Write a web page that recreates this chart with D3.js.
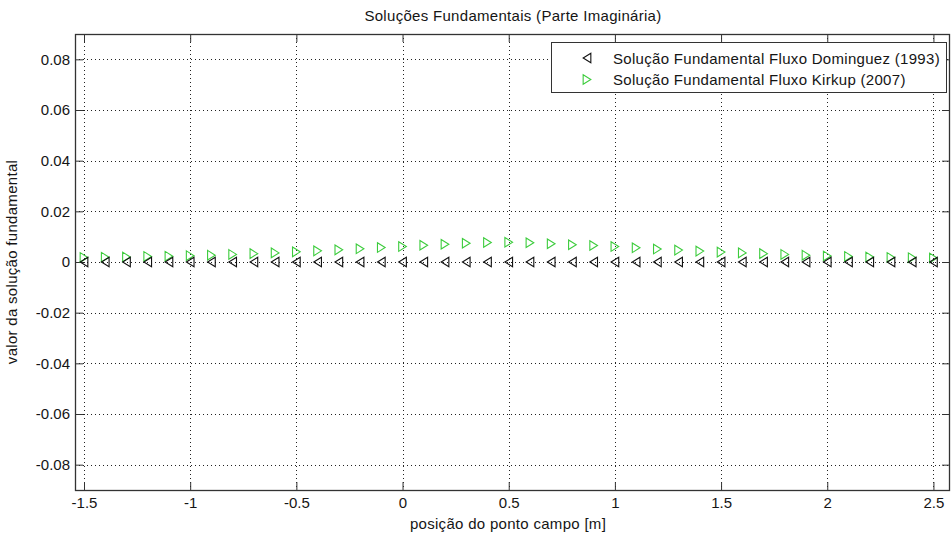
<!DOCTYPE html>
<html>
<head>
<meta charset="utf-8">
<script src="https://cdn.jsdelivr.net/npm/d3@7"></script>
<style>
  html, body { margin: 0; padding: 0; background: #fff; }
  svg { display: block; font-family: "Liberation Sans", Arial, sans-serif; }
</style>
</head>
<body>
<svg id="chart" width="952" height="535"></svg>
<script>
// Field point positions [m]
const positions = d3.range(41).map(i => +(-1.5 + i * 0.1).toFixed(1));
// Imaginary part, Dominguez (1993) flux fundamental solution
const dominguez = [
  0, 0, 0, 0, 0, 0, 0, 0, 0, 0,
  0, 0, 0, 0, 0, 0, 0, 0, 0, 0,
  0, 0, 0, 0, 0, 0, 0, 0, 0, 0,
  0, 0, 0, 0, 0, 0, 0, 0, 0, 0, 0
];
// Imaginary part, Kirkup (2007) flux fundamental solution
const kirkup = [
  0.0018, 0.0019, 0.0020, 0.0022, 0.0023, 0.0025, 0.0027, 0.0030, 0.0033, 0.0036,
  0.0040, 0.0044, 0.0048, 0.0052, 0.0057, 0.0061, 0.0066, 0.0070, 0.0074, 0.0077,
  0.0078, 0.0076, 0.0072, 0.0068, 0.0065, 0.0061, 0.0056, 0.0051, 0.0047, 0.0043,
  0.0039, 0.0036, 0.0033, 0.0030, 0.0027, 0.0024, 0.0022, 0.0020, 0.0018, 0.0017, 0.0016
];
const xTicks = [-1.5, -1, -0.5, 0, 0.5, 1, 1.5, 2, 2.5];
const yTicks = [-0.08, -0.06, -0.04, -0.02, 0, 0.02, 0.04, 0.06, 0.08];
const seriesNames = [
  "Solução Fundamental Fluxo Dominguez (1993)",
  "Solução Fundamental Fluxo Kirkup (2007)"
];

const svg = d3.select("#chart");
const plotLeft = 75, plotRight = 950, plotTop = 34, plotBottom = 490;
const axisColor = "#333";
const textColor = "#151515";
const fontSize = 15;
const spacing = 0.3;
const green = "#3ccc3c";

const x = d3.scaleLinear().domain([-1.5424, 2.578]).range([plotLeft, plotRight]);
const y = d3.scaleLinear().domain([-0.09, 0.09]).range([plotBottom, plotTop]);

const fmt = v => String(+v.toFixed(2));

// Dotted grid
const grid = svg.append("g").attr("stroke", "#222").attr("stroke-width", 1)
  .attr("stroke-dasharray", "1,3");
grid.selectAll("line.vx").data(xTicks).join("line")
  .attr("x1", d => Math.round(x(d)) + 0.5).attr("x2", d => Math.round(x(d)) + 0.5)
  .attr("y1", plotTop).attr("y2", plotBottom);
grid.selectAll("line.hy").data(yTicks).join("line")
  .attr("x1", plotLeft).attr("x2", plotRight)
  .attr("y1", d => Math.round(y(d)) + 0.5).attr("y2", d => Math.round(y(d)) + 0.5);

// Axes with inward ticks
const tickLen = 8;
svg.append("g").attr("transform", `translate(0,${plotBottom})`)
  .call(d3.axisBottom(x).tickValues(xTicks).tickFormat(fmt).tickSizeInner(-tickLen).tickSizeOuter(0).tickPadding(7))
  .call(g => g.select(".domain").remove());
svg.append("g").attr("transform", `translate(0,${plotTop})`)
  .call(d3.axisTop(x).tickValues(xTicks).tickFormat("").tickSizeInner(-tickLen).tickSizeOuter(0))
  .call(g => g.select(".domain").remove());
svg.append("g").attr("transform", `translate(${plotLeft},0)`)
  .call(d3.axisLeft(y).tickValues(yTicks).tickFormat(fmt).tickSizeInner(-tickLen).tickSizeOuter(0).tickPadding(5))
  .call(g => g.select(".domain").remove());
svg.append("g").attr("transform", `translate(${plotRight},0)`)
  .call(d3.axisRight(y).tickValues(yTicks).tickFormat("").tickSizeInner(-tickLen).tickSizeOuter(0))
  .call(g => g.select(".domain").remove());
svg.selectAll(".tick line").attr("stroke", axisColor);
svg.selectAll(".tick text").attr("fill", textColor).attr("font-size", fontSize)
  .attr("font-family", "'Liberation Sans', Arial, sans-serif");

// Axes box
svg.append("rect").attr("x", plotLeft + 0.5).attr("y", plotTop + 0.5)
  .attr("width", plotRight - plotLeft - 1).attr("height", plotBottom - plotTop)
  .attr("fill", "none").attr("stroke", axisColor).attr("stroke-width", 1.3);

// Triangle markers
const tri = (dir, s) => dir === "left"
  ? `M${s * 0.8},${-s} L${-s * 0.8},0 L${s * 0.8},${s} Z`
  : `M${-s * 0.8},${-s} L${s * 0.8},0 L${-s * 0.8},${s} Z`;
const ms = 4.8;

svg.append("g").selectAll("path").data(positions).join("path")
  .attr("transform", (d, i) => `translate(${x(d)},${y(kirkup[i])})`)
  .attr("d", tri("right", ms)).attr("fill", "none")
  .attr("stroke", green).attr("stroke-width", 1.1);

svg.append("g").selectAll("path").data(positions).join("path")
  .attr("transform", (d, i) => `translate(${x(d)},${y(dominguez[i])})`)
  .attr("d", tri("left", ms)).attr("fill", "none")
  .attr("stroke", "#111").attr("stroke-width", 1.1);

// Titles
const label = (sel) => sel.attr("font-size", fontSize).attr("letter-spacing", spacing).attr("fill", textColor);
svg.append("text").attr("x", 513).attr("y", 21).attr("text-anchor", "middle")
  .call(label).text("Soluções Fundamentais (Parte Imaginária)");
svg.append("text").attr("x", 508).attr("y", 529).attr("text-anchor", "middle")
  .call(label).text("posição do ponto campo [m]");
svg.append("text").attr("transform", "translate(17,262) rotate(-90)").attr("text-anchor", "middle")
  .call(label).text("valor da solução fundamental");

// Legend
const lg = svg.append("g");
lg.append("rect").attr("x", 551.5).attr("y", 42.5).attr("width", 395).attr("height", 50)
  .attr("fill", "#fff").attr("stroke", axisColor).attr("stroke-width", 1);
const legendItems = [
  { name: seriesNames[0], dir: "left", color: "#111" },
  { name: seriesNames[1], dir: "right", color: green }
];
legendItems.forEach((it, i) => {
  const yy = 58 + i * 21.5;
  lg.append("path").attr("transform", `translate(587,${yy})`)
    .attr("d", tri(it.dir, ms)).attr("fill", "none")
    .attr("stroke", it.color).attr("stroke-width", 1.1);
  lg.append("text").attr("x", 613).attr("y", yy + 5.5).call(label).text(it.name);
});
</script>
</body>
</html>
